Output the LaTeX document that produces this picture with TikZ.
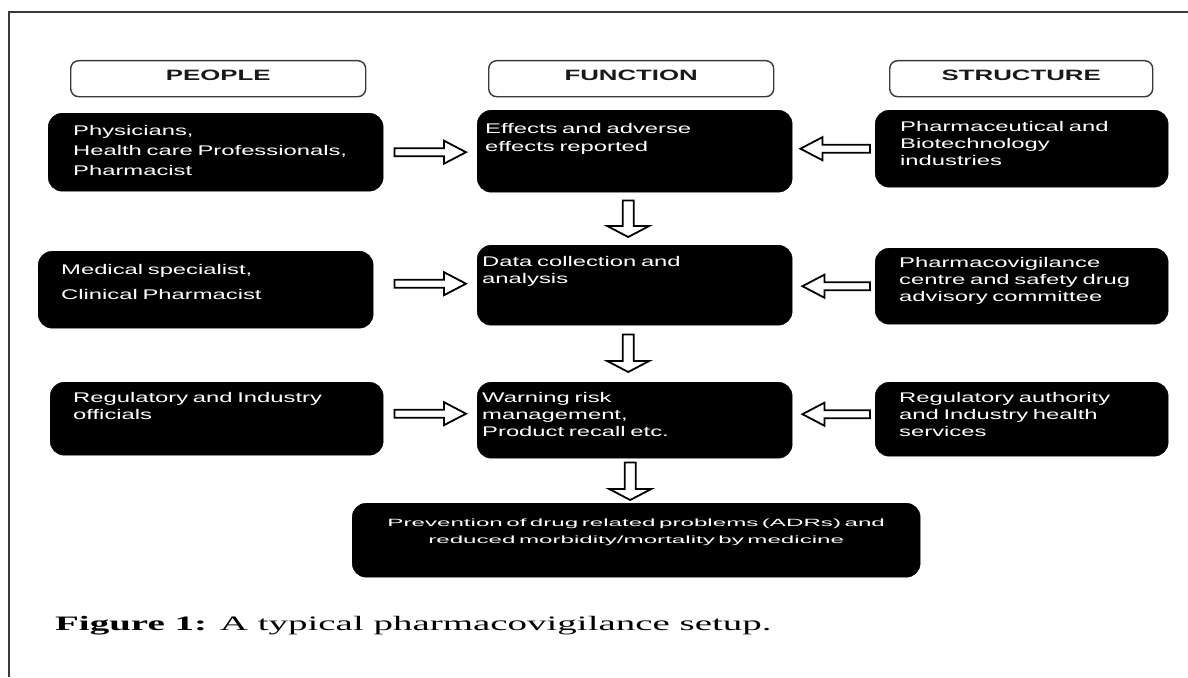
\documentclass[tikz,border=0pt]{standalone}
\usepackage{fontspec}
\usetikzlibrary{calc}
\newfontfamily\bodyfont[FakeStretch=1.7]{Liberation Sans}
\newfontfamily\headfont[FakeStretch=1.72]{Liberation Sans}
\newfontfamily\notefont[FakeStretch=2.3]{Liberation Sans}
\newfontfamily\capfont[FakeStretch=1.9]{Liberation Serif}
\definecolor{framegray}{HTML}{3A3A3A}

\begin{document}
\begin{tikzpicture}[
    x=1pt, y=-1pt,
    head/.style={draw=framegray, line width=1.4pt, fill=white, rounded corners=8pt,
      anchor=north west, inner sep=0pt, text height=20pt, text depth=16pt,
      font=\headfont\bfseries\fontsize{15pt}{18pt}\selectfont, text=black!90},
    blackbox/.style={draw=black, fill=black, text=white, rounded corners=14pt,
      anchor=north west, align=left, inner ysep=0pt,
      font=\bodyfont\fontsize{14pt}{17pt}\selectfont},
    harrow/.style={draw=black, fill=white, line width=1.8pt, line join=miter,
      to path={let \p1=(\tikztostart), \p2=(\tikztotarget),
        \n1={sign(\x2-\x1)*22} in
        (\x1,\y1+4pt) -- ({\x2-\n1*1pt},\y1+4pt) -- ({\x2-\n1*1pt},\y1+11.5pt)
        -- (\x2,\y1) -- ({\x2-\n1*1pt},\y1-11.5pt) -- ({\x2-\n1*1pt},\y1-4pt)
        -- (\x1,\y1-4pt) -- cycle}},
    varrow/.style={draw=black, fill=white, line width=1.8pt, line join=miter,
      to path={let \p1=(\tikztostart), \p2=(\tikztotarget),
        \n1={sign(\y2-\y1)*11} in
        (\x1-5.5pt,\y1) -- (\x1-5.5pt,{\y2-\n1*1pt}) -- (\x1-21pt,{\y2-\n1*1pt})
        -- (\x1,\y2) -- (\x1+21pt,{\y2-\n1*1pt}) -- (\x1+5.5pt,{\y2-\n1*1pt})
        -- (\x1+5.5pt,\y1) -- cycle}}
]
    \useasboundingbox (0,0) rectangle (1188,677);
    \draw[framegray, line width=1.3pt] (9,677) -- (9,12) -- (1188,12);

    % Headers
    \node[head, minimum width=295pt] (people) at (70,60) {PEOPLE};
    \node[head, minimum width=285pt] (function) at (488,60) {FUNCTION};
    \node[head, minimum width=263pt] (structure) at (889,60) {STRUCTURE};

    % People
    \node[blackbox, text width=285pt, inner xsep=25pt, text height=22pt, text depth=56pt]
      (p1) at (48,113) {Physicians,\\[3pt] Health care Professionals,\\[3pt] Pharmacist};
    \node[blackbox, text width=289pt, inner xsep=23pt, text height=23pt, text depth=54pt]
      (p2) at (38,251) {Medical specialist,\\[8pt] Clinical Pharmacist};
    \node[blackbox, text width=287pt, inner xsep=23pt, text height=20pt, text depth=53pt]
      (p3) at (50,382) {Regulatory and Industry\\ officials};

    % Function
    \node[blackbox, text width=299pt, inner xsep=8pt, text height=23pt, text depth=59pt]
      (f1) at (477,110) {Effects and adverse\\[1pt] effects reported};
    \node[blackbox, text width=305pt, inner xsep=5pt, text height=21pt, text depth=59pt]
      (f2) at (477,245) {Data collection and\\ analysis};
    \node[blackbox, text width=305pt, inner xsep=5pt, text height=20pt, text depth=56pt]
      (f3) at (477,382) {Warning risk\\ management,\\ Product recall etc.};

    % Structure
    \node[blackbox, text width=243pt, inner xsep=25pt, text height=21pt, text depth=56pt]
      (s1) at (875,110) {Pharmaceutical and\\ Biotechnology\\ industries};
    \node[blackbox, text width=245pt, inner xsep=24pt, text height=19pt, text depth=57pt]
      (s2) at (875,248) {Pharmacovigilance\\ centre and safety drug\\ advisory committee};
    \node[blackbox, text width=245pt, inner xsep=24pt, text height=20pt, text depth=54pt]
      (s3) at (875,382) {Regulatory authority\\ and Industry health\\ services};

    % Outcome
    \node[blackbox, align=center, text width=528pt, inner xsep=20pt, text height=23pt, text depth=51pt,
      font=\notefont\fontsize{10.5pt}{17pt}\selectfont]
      (outcome) at (352,503) {Prevention of drug related problems (ADRs) and\\ reduced morbidity/mortality by medicine};

    % Arrows
    \draw[harrow] ([xshift=11pt]p1.east) to ([xshift=-11pt]f1.west);
    \draw[harrow] ([xshift=-5pt]s1.west) to ([xshift=8pt]f1.east);
    \draw[harrow] ([xshift=21pt, yshift=6pt]p2.east) to ([xshift=-11pt]f2.west);
    \draw[harrow] ([xshift=-5pt]s2.west) to ([xshift=10pt]f2.east);
    \draw[harrow] ([xshift=11pt, yshift=5pt]p3.east) to ([xshift=-11pt]f3.west);
    \draw[harrow] ([xshift=-5pt, yshift=5pt]s3.west) to ([xshift=10pt]f3.east);
    \draw[varrow] ([xshift=-6.5pt, yshift=-8pt]f1.south) to ([xshift=-6.5pt, yshift=8pt]f2.north);
    \draw[varrow] ([xshift=-6.5pt, yshift=-9pt]f2.south) to ([xshift=-6.5pt, yshift=10pt]f3.north);
    \draw[varrow] ([xshift=-4.5pt, yshift=-4pt]f3.south) to ([xshift=-4.5pt, yshift=3pt]outcome.north);

    % Caption
    \node[anchor=base west, inner sep=0pt, font=\capfont\fontsize{20.5pt}{24pt}\selectfont]
      (caption) at (55,630) {\textbf{Figure 1:} A typical pharmacovigilance setup.};
\end{tikzpicture}
\end{document}
